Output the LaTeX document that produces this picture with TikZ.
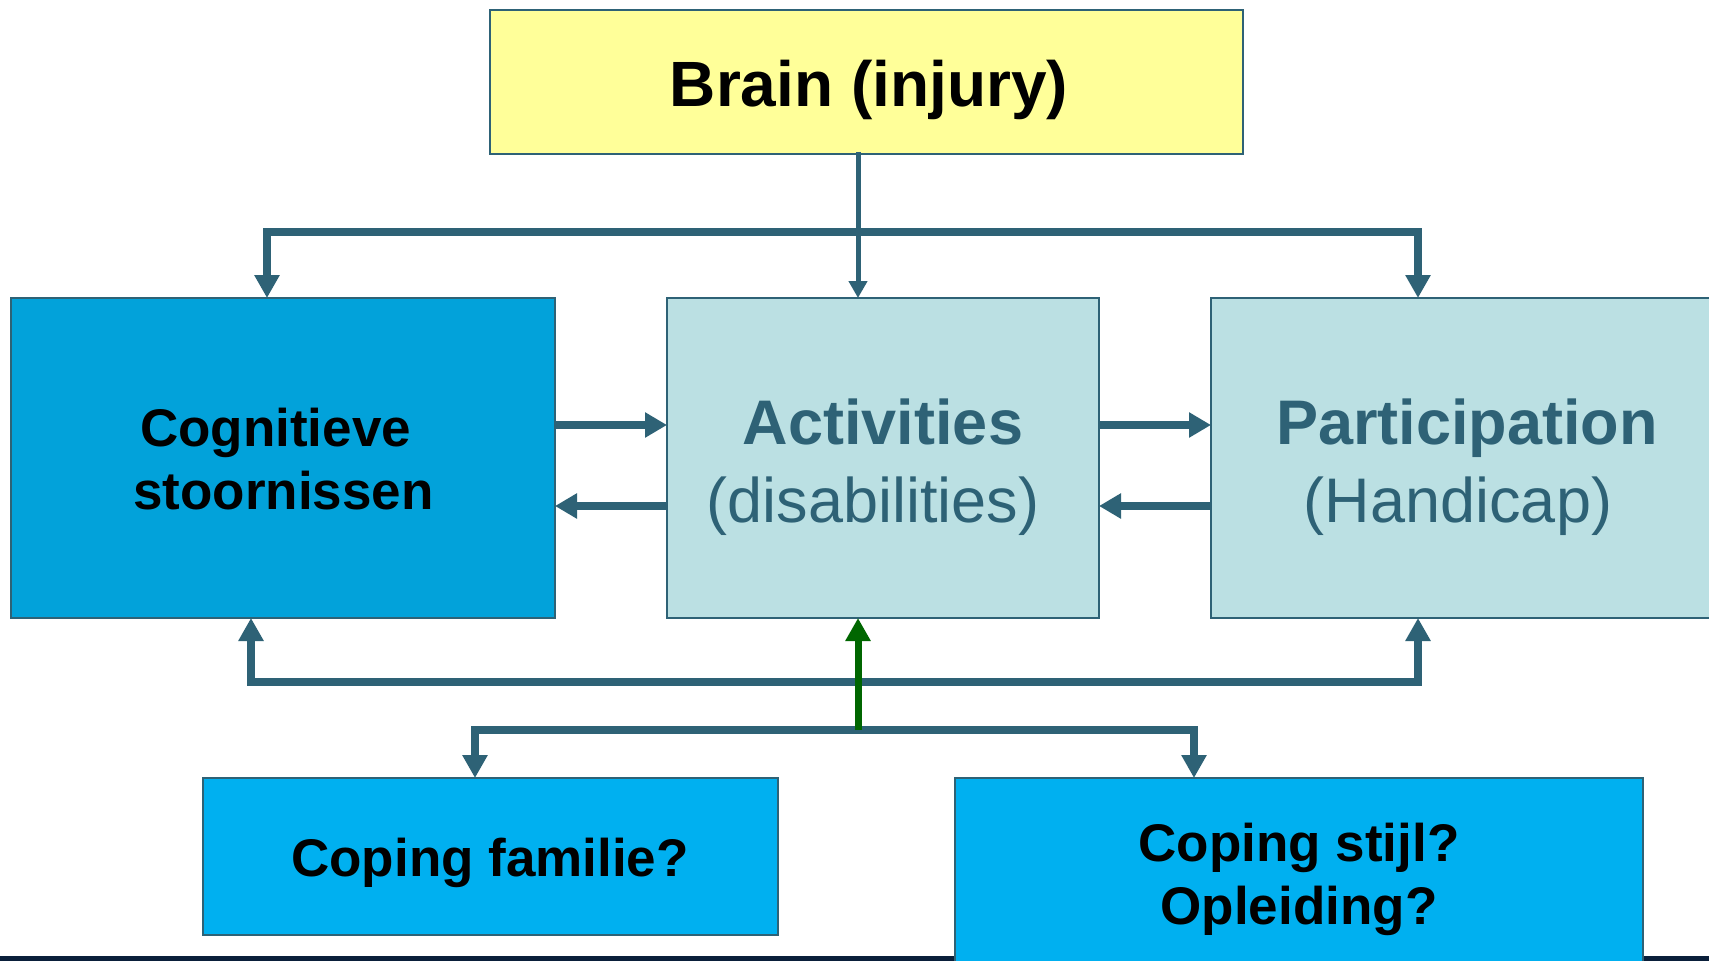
\documentclass[tikz,border=0pt]{standalone}
\usepackage{fontspec}
\setmainfont{Liberation Sans}
\usetikzlibrary{arrows.meta,calc}

\definecolor{linkc}{HTML}{2E6276}
\definecolor{brainfill}{HTML}{FFFF99}
\definecolor{cogfill}{HTML}{02A2DA}
\definecolor{actfill}{HTML}{BBE0E3}
\definecolor{copefill}{HTML}{00B0F0}
\definecolor{greenc}{HTML}{006600}
\definecolor{barc}{HTML}{0A1F3A}

\tikzset{
  boxbase/.style={draw=linkc, line width=1.5pt, inner sep=0pt, outer sep=0pt, anchor=north west},
  txt/.style={inner sep=0pt, outer sep=0pt, align=center},
  conn/.style={draw=linkc, line width=7.5pt, line join=miter, line cap=rect},
  tip/.tip={Triangle[length=23pt,width=24pt]},
  smalltip/.tip={Triangle[length=17pt,width=18pt]},
  sidetip/.tip={Triangle[length=22pt,width=24pt]},
}

\begin{document}
\begin{tikzpicture}[x=1pt,y=-1pt]
  \useasboundingbox (0,0) rectangle (1709,961);
  \fill[white] (0,0) rectangle (1709,961);

  % dark strip along the lower edge
  \fill[barc] (0,956) rectangle (1709,961);

  % boxes
  \node[boxbase, fill=brainfill, minimum width=753pt, minimum height=144pt] (brain) at (490,10) {};
  \node[boxbase, fill=cogfill, minimum width=544pt, minimum height=320pt] (cog) at (11,298) {};
  \node[boxbase, fill=actfill, minimum width=432pt, minimum height=320pt] (act) at (667,298) {};
  \node[boxbase, fill=actfill, minimum width=512pt, minimum height=320pt] (par) at (1211,298) {};
  \node[boxbase, fill=copefill, minimum width=575pt, minimum height=157pt] (fam) at (203,778) {};
  \node[boxbase, fill=copefill, minimum width=688pt, minimum height=200pt] (sti) at (955,778) {};

  % texts
  \node[txt, font=\bfseries\fontsize{64}{76}\selectfont] (brainT) at (869,89.7) {Brain (injury)};
  \node[txt, font=\bfseries\fontsize{53}{63}\selectfont] (cogT) at (280,459) {Cognitieve\hspace*{9pt}\\\hspace*{7pt}stoornissen};
  \node[txt, text=linkc, font=\fontsize{63}{78}\selectfont] (actT) at (883,467.5) {\textbf{Activities}\\(disabilities)\hspace*{20pt}};
  \node[txt, text=linkc, font=\fontsize{63}{78}\selectfont] (parT) at (1467,467.5) {\textbf{Participation}\\(Handicap)\hspace*{18pt}};
  \node[txt, font=\bfseries\fontsize{53}{63}\selectfont] (famT) at (490,863) {Coping familie?};
  \node[txt, font=\bfseries\fontsize{53}{63}\selectfont] (stiT) at (1299,879) {Coping stijl?\\Opleiding?};

  % junction points of the connectors
  \coordinate (mid) at (858,0);
  \coordinate (tl) at (267,232);
  \coordinate (tr) at (1418,232);
  \coordinate (bl) at (251,682);
  \coordinate (br) at (1418,682);
  \coordinate (gj) at (858,730);
  \coordinate (cl) at (475,730);
  \coordinate (cr) at (1194,730);
  \coordinate (ya) at (0,425);
  \coordinate (yb) at (0,506);

  % from the brain to the three domains
  \draw[conn, line width=5pt, -{smalltip}] (mid |- brain.south) -- (mid |- act.north);
  \draw[conn, {tip}-{tip}] (tl |- cog.north) -- (tl) -- (tr) -- (tr |- par.north);

  % feedback line under the domains
  \draw[conn, {tip}-{tip}] (bl |- cog.south) -- (bl) -- (br) -- (br |- par.south);

  % coping factors
  \draw[conn, {tip}-{tip}] (cl |- fam.north) -- (cl) -- (cr) -- (cr |- sti.north);
  \draw[draw=greenc, line width=7pt, line cap=butt, -{tip}] (gj) -- (mid |- act.south);

  % horizontal links between the domains
  \draw[conn, line width=8pt, line cap=butt, -{sidetip}] (cog.east |- ya) -- (act.west |- ya);
  \draw[conn, line width=8pt, line cap=butt, -{sidetip}] (act.west |- yb) -- (cog.east |- yb);
  \draw[conn, line width=8pt, line cap=butt, -{sidetip}] (act.east |- ya) -- (par.west |- ya);
  \draw[conn, line width=8pt, line cap=butt, -{sidetip}] (par.west |- yb) -- (act.east |- yb);
\end{tikzpicture}
\end{document}
